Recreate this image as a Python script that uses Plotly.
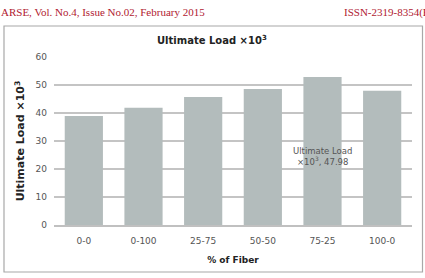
import plotly.graph_objects as go

categories = ["0-0", "0-100", "25-75", "50-50", "75-25", "100-0"]
ultimate_load = [38.9, 41.9, 45.7, 48.6, 52.9, 47.98]
y_ticks = [0, 10, 20, 30, 40, 50, 60]

W, H = 425, 278
L, R, T, B = 54, 13, 57, 53
pw, ph = W - L - R, H - T - B

def px(x):
    return (x - L) / pw

def py(y):
    return (H - B - y) / ph

fig = go.Figure()
fig.add_trace(go.Bar(
    x=categories, y=ultimate_load,
    marker=dict(color="#b3bcbc", line=dict(width=0)),
    hoverinfo="x+y",
))

fig.update_layout(
    width=W, height=H,
    margin=dict(l=L, r=R, t=T, b=B),
    paper_bgcolor="white", plot_bgcolor="white",
    bargap=0.36,
    showlegend=False,
    font=dict(family="DejaVu Sans", size=9, color="#444"),
    xaxis=dict(
        showgrid=False, showline=True, linecolor="#c0c0c0", linewidth=2,
        ticks="", tickfont=dict(size=9, color="#555"), ticklabelstandoff=6,
        title=dict(text="<b>% of Fiber</b>", font=dict(size=9, color="#222"), standoff=12),
    ),
    yaxis=dict(
        range=[0, 60], tickvals=y_ticks, showgrid=True, gridcolor="#c4c4c4", gridwidth=2,
        zeroline=False, showline=False, ticks="", ticklen=0, ticklabelstandoff=6,
        tickfont=dict(size=9, color="#555"),
        title=dict(text="<b>Ultimate Load ×10<sup>3</sup></b>", font=dict(size=11, color="#222"), standoff=8),
    ),
)

fig.add_annotation(
    text="<b>Ultimate Load ×10<sup>3</sup></b>", xref="paper", yref="paper",
    x=px(212), y=py(40), showarrow=False, font=dict(size=10, color="#222"),
    xanchor="center", yanchor="middle",
)
fig.add_annotation(
    text="Ultimate Load<br>×10<sup>3</sup>, 47.98", xref="x", yref="y",
    x="75-25", y=24.3, showarrow=False, font=dict(size=8.5, color="#555"),
    xanchor="center", yanchor="middle",
)
fig.add_annotation(
    text="ARSE, Vol. No.4, Issue No.02, February 2015", xref="paper", yref="paper",
    x=px(-1), y=py(12), showarrow=False, xanchor="left", yanchor="middle",
    font=dict(family="Liberation Serif", size=11, color="#b02030"),
)
fig.add_annotation(
    text="ISSN-2319-8354(E)", xref="paper", yref="paper",
    x=px(342), y=py(12), showarrow=False, xanchor="left", yanchor="middle",
    font=dict(family="Liberation Serif", size=11, color="#b02030"),
)
fig.add_shape(
    type="rect", xref="paper", yref="paper",
    x0=px(4), x1=px(422.5), y0=py(272), y1=py(26),
    line=dict(color="#a8a8a8", width=1.2), fillcolor="rgba(0,0,0,0)", layer="below",
)

fig.write_html("out.html")
